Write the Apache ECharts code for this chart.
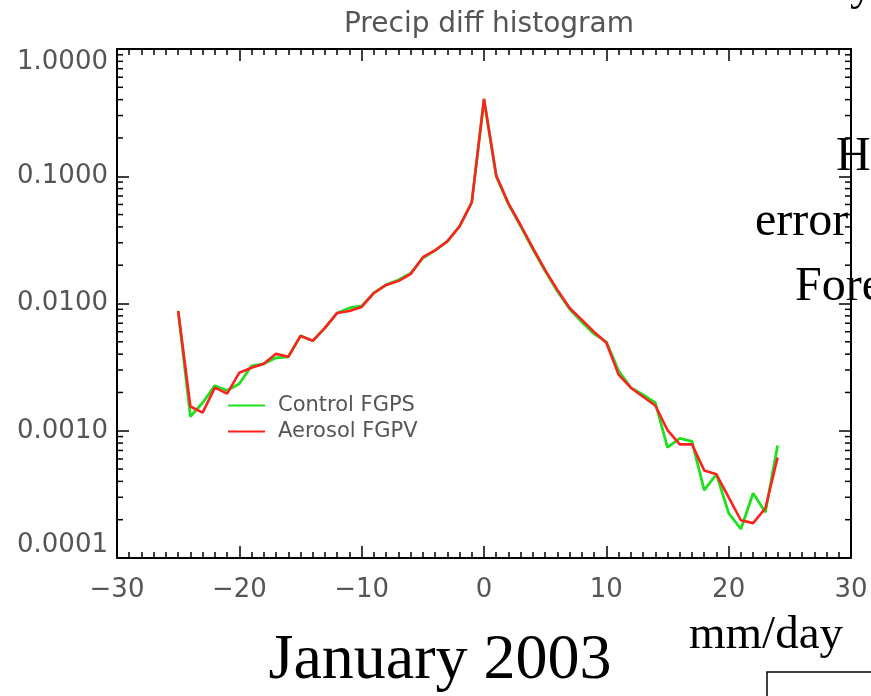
<!DOCTYPE html>
<html>
<head>
<meta charset="utf-8">
<script src="https://cdn.jsdelivr.net/npm/echarts@6/dist/echarts.min.js"></script>
<style>
html,body{margin:0;padding:0;background:#ffffff;}
#chart{width:871px;height:696px;}
</style>
</head>
<body>
<div id="chart"></div>
<script>
// ---- data ----
const bins = [-25,-24,-23,-22,-21,-20,-19,-18,-17,-16,-15,-14,-13,-12,-11,-10,-9,-8,-7,-6,-5,-4,-3,-2,-1,
              0,1,2,3,4,5,6,7,8,9,10,11,12,13,14,15,16,17,18,19,20,21,22,23,24];
const controlFGPS = [0.00873,0.00129,0.00166,0.00226,0.00207,0.00234,0.00324,0.00336,0.00374,0.00381,
                     0.00557,0.00509,0.00643,0.00843,0.00922,0.00956,0.0121,0.0140,0.0153,0.0173,
                     0.0227,0.0262,0.0308,0.0404,0.0623,
                     0.399,0.0995,0.0601,0.0404,0.0267,0.0180,0.0125,0.00906,0.00716,0.00577,
                     0.00500,0.00296,0.00218,0.00192,0.00166,0.000739,0.000870,0.000824,0.000341,0.000455,
                     0.000225,0.000169,0.000323,0.000229,0.000766];
const aerosolFGPV = [0.00873,0.00155,0.00139,0.00218,0.00196,0.00286,0.00313,0.00336,0.00402,0.00381,
                     0.00557,0.00509,0.00643,0.00843,0.00873,0.00939,0.0121,0.0140,0.0150,0.0170,
                     0.0231,0.0262,0.0308,0.0404,0.0623,
                     0.406,0.1014,0.0612,0.0412,0.0272,0.0183,0.0128,0.00922,0.00743,0.00598,
                     0.00491,0.00276,0.00218,0.00185,0.00158,0.00101,0.000781,0.000781,0.000488,0.000455,
                     0.000300,0.000198,0.000188,0.000246,0.000617];
const xTickValues = [-30,-20,-10,0,10,20,30];
const yTickLabels = ['0.0001','0.0010','0.0100','0.1000','1.0000'];
const seriesNames = ['Control FGPS','Aerosol FGPV'];

// minor log ticks (2..9 in every decade)
const decades = [0.0001,0.001,0.01,0.1];
const minorVals = [];
decades.forEach(d => { for (let m = 2; m <= 9; m++) minorVals.push(d * m); });

const chart = echarts.init(document.getElementById('chart'), null, {renderer:'canvas'});
const labelColor = '#555555';
const sans = '"DejaVu Sans", sans-serif';
const serif = '"Liberation Serif", "Times New Roman", serif';

function fmtX(v){ return v < 0 ? '\u2212' + (-v) : String(v); }
function fmtY(v){
  const e = Math.round(Math.log10(v));
  const idx = e + 4;
  return yTickLabels[idx] !== undefined ? yTickLabels[idx] : v.toFixed(4);
}

const xCommon = {
  type:'value', min:-30, max:30, interval:10,
  axisLine:{show:true, onZero:false, lineStyle:{color:'#000', width:2}},
  axisTick:{show:true, inside:true, length:12, lineStyle:{color:'#000', width:1.5}},
  minorTick:{show:true, splitNumber:10, length:6, lineStyle:{color:'#000', width:1.5}},
  splitLine:{show:false}, minorSplitLine:{show:false}
};
const yCommon = {
  type:'log', logBase:10, min:0.0001, max:1,
  axisLine:{show:true, onZero:false, lineStyle:{color:'#000', width:2}},
  axisTick:{show:true, inside:true, length:12, lineStyle:{color:'#000', width:1.5}},
  minorTick:{show:false},
  splitLine:{show:false}
};

const option = {
  animation:false,
  backgroundColor:'#ffffff',
  title:{
    text:'Precip diff histogram', left:484, top:6, textAlign:'center',
    textStyle:{fontFamily:sans, fontSize:28, fontWeight:'normal', color:labelColor}
  },
  grid:{left:117, right:20, top:49, bottom:138, containLabel:false},
  legend:{
    data:seriesNames, orient:'vertical', left:228, top:395, padding:0,
    icon:'rect', itemWidth:37, itemHeight:2, itemGap:5,
    textStyle:{fontFamily:sans, fontSize:21, color:labelColor, padding:[0,0,0,8], lineHeight:21}
  },
  xAxis:[
    Object.assign({}, xCommon, {position:'bottom',
      axisLabel:{show:true, margin:19, fontFamily:sans, fontSize:26, color:labelColor, formatter:fmtX}}),
    Object.assign({}, xCommon, {position:'top', axisLabel:{show:false}})
  ],
  yAxis:[
    Object.assign({}, yCommon, {position:'left',
      axisLabel:{show:true, margin:9, fontFamily:sans, fontSize:26, color:labelColor, formatter:fmtY,
                 verticalAlignMaxLabel:'top', verticalAlignMinLabel:'bottom'}}),
    Object.assign({}, yCommon, {position:'right', axisLabel:{show:false}})
  ],
  series:[
    {
      type:'custom', name:'minorTicks', xAxisIndex:0, yAxisIndex:0, silent:true, clip:false,
      data:minorVals.map(v => [-30, v]),
      renderItem:function(params, api){
        const v = api.value(1);
        const pL = api.coord([-30, v]);
        const pR = api.coord([30, v]);
        const st = {stroke:'#000', lineWidth:1.5};
        return {type:'group', children:[
          {type:'line', shape:{x1:pL[0], y1:pL[1], x2:pL[0]+6, y2:pL[1]}, style:st},
          {type:'line', shape:{x1:pR[0], y1:pR[1], x2:pR[0]-6, y2:pR[1]}, style:st}
        ]};
      }
    },
    {
      type:'line', name:seriesNames[0], xAxisIndex:0, yAxisIndex:0,
      data:bins.map((b,i)=>[b, controlFGPS[i]]),
      showSymbol:false, symbol:'none', color:'#1fe01f',
      lineStyle:{color:'#1fe01f', width:2.8}, z:3
    },
    {
      type:'line', name:seriesNames[1], xAxisIndex:0, yAxisIndex:0,
      data:bins.map((b,i)=>[b, aerosolFGPV[i]]),
      showSymbol:false, symbol:'none', color:'#ff2020',
      lineStyle:{color:'#ff2020', width:2.6}, z:4
    }
  ],
  graphic:[
    {type:'text', x:850, y:10, style:{text:'y', font:'46px ' + serif, fill:'#000', align:'left', verticalAlign:'bottom'}},
    {type:'text', x:836, y:157, style:{text:'H', font:'48px ' + serif, fill:'#000', align:'left', verticalAlign:'middle'}},
    {type:'text', x:755, y:222, style:{text:'error', font:'48px ' + serif, fill:'#000', align:'left', verticalAlign:'middle'}},
    {type:'text', x:795, y:287, style:{text:'Fore', font:'48px ' + serif, fill:'#000', align:'left', verticalAlign:'middle'}},
    {type:'text', x:689, y:636, style:{text:'mm/day', font:'47px ' + serif, fill:'#000', align:'left', verticalAlign:'middle'}},
    {type:'text', x:440, y:661, style:{text:'January 2003', font:'64px ' + serif, fill:'#000', align:'center', verticalAlign:'middle'}},
    {type:'polyline', shape:{points:[[871,672],[767,672],[767,696]]}, style:{stroke:'#000', lineWidth:1.5, fill:null}}
  ]
};
chart.setOption(option);
</script>
</body>
</html>
